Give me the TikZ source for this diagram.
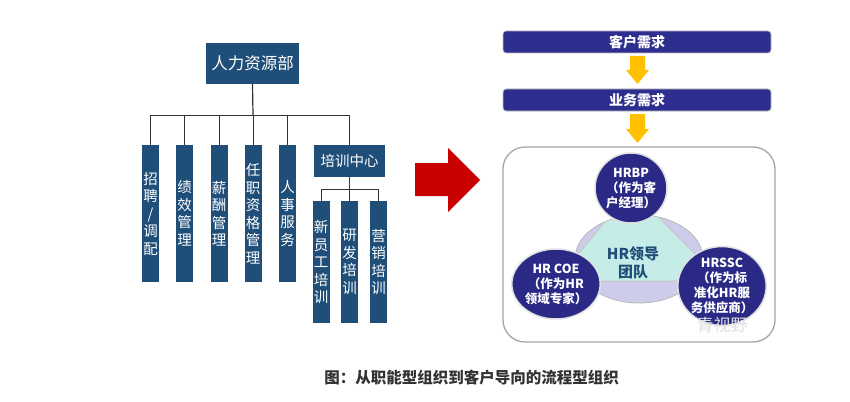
\documentclass[tikz,border=0pt]{standalone}
\usepackage{fontspec}
\setmainfont{Noto Sans CJK SC}
\definecolor{boxblue}{HTML}{1F4E79}
\definecolor{barblue}{HTML}{2E2E8E}
\definecolor{circblue}{HTML}{2A2A86}
\definecolor{lav}{HTML}{CDCDEB}
\definecolor{teal}{HTML}{C6ECE8}
\definecolor{arrowred}{HTML}{C80000}
\definecolor{gold}{HTML}{FFC000}
\definecolor{captxt}{HTML}{333333}
\tikzset{
  orgbox/.style={fill=boxblue, text=white, inner sep=0pt, align=center},
  vbox/.style={orgbox, minimum width=17pt, font=\fontsize{14.5}{17.5}\selectfont},
  tree/.style={draw=black!80, line width=0.8pt},
  bar/.style={fill=barblue, draw=gray!50, line width=0.8pt, rounded corners=3pt, text=white,
              minimum width=268pt, minimum height=22pt, inner sep=0pt, font=\bfseries\fontsize{14}{16}\selectfont},
  circ/.style={ellipse, fill=circblue, draw=gray!25, line width=1.5pt, text=white, inner sep=0pt,
               align=center, font=\bfseries\fontsize{12.5}{15}\selectfont},
}
\usetikzlibrary{shapes.geometric}
\begin{document}
\begin{tikzpicture}[x=1pt,y=-1pt]
\useasboundingbox (0,0) rectangle (850,401);
\fill[white] (0,0) rectangle (850,401);

% ---------- left org chart ----------
\node[orgbox, minimum width=93pt, minimum height=41pt, font=\fontsize{16.5}{18}\selectfont] (hr) at (252.5,63.5) {人力资源部};
\coordinate (bus) at (253,115);
\node[vbox, minimum height=137pt] (c1) at (150.5,213.5) {招\\聘\\/\\调\\配};
\node[vbox, minimum height=137pt] (c2) at (184.5,213.5) {绩\\效\\管\\理};
\node[vbox, minimum height=137pt] (c3) at (219,213.5) {薪\\酬\\管\\理};
\node[vbox, minimum height=137pt] (c4) at (253,213.5) {任\\职\\资\\格\\管\\理};
\node[vbox, minimum height=137pt] (c5) at (287.5,213.5) {人\\事\\服\\务};
\node[orgbox, minimum width=71pt, minimum height=32pt, font=\fontsize{14.5}{16}\selectfont] (c6) at (349.5,161) {培训中心};
\coordinate (bus2) at (349.5,189);
\node[vbox, minimum height=122pt] (s1) at (321,262) {新\\员\\工\\培\\训};
\node[vbox, minimum height=122pt] (s2) at (349.5,262) {研\\发\\培\\训};
\node[vbox, minimum height=122pt] (s3) at (378.5,262) {营\\销\\培\\训};

\draw[tree, line width=1.2pt] (hr.south) -- (bus);
\draw[tree] (c1.north |- bus) -- (c6.north |- bus);
\foreach \c in {c1,c2,c3,c4,c5,c6} \draw[tree] (\c.north) -- (\c.north |- bus);
\draw[tree] (c6.south) -- (bus2);
\draw[tree] (s1.north |- bus2) -- (s3.north |- bus2);
\foreach \c in {s1,s2,s3} \draw[tree] (\c.north) -- (\c.north |- bus2);

% ---------- red arrow ----------
\fill[arrowred] (415,163) -- (448,163) -- (448,148) -- (480,180) -- (448,212) -- (448,196) -- (415,196) -- cycle;

% ---------- right side ----------
\node[bar] (need1) at (637,42) {客户需求};
\node[bar] (need2) at (637,100) {业务需求};
\fill[gold] (630,56) -- (645,56) -- (645,70) -- (649,70) -- (637.5,84) -- (626,70) -- (630,70) -- cycle;
\fill[gold] (630,114) -- (645,114) -- (645,129) -- (649,129) -- (637.5,143) -- (626,129) -- (630,129) -- cycle;

\draw[gray!70, line width=1.3pt, fill=white, rounded corners=22pt] (503,147) rectangle (775,342);

\node[ellipse, fill=lav, draw=gray!55, line width=0.8pt, minimum width=128pt, minimum height=88pt, inner sep=0pt] (team) at (639,259) {};
\begin{scope}
  \clip (639,259) ellipse [x radius=63.5pt, y radius=43.5pt];
  \fill[teal] (631,190) -- (556,281) -- (722,281) -- cycle;
  \draw[gray!45, line width=1pt] (631,190) -- (556,281) -- (722,281) -- cycle;
\end{scope}
\node[text=boxblue, align=center, font=\bfseries\fontsize{15}{18}\selectfont] (lead) at (633,263) {HR领导\\团队};

\node[circ, minimum width=72pt, minimum height=70pt] (bp) at (631,188) {HRBP\\（作为客\\户经理）};
\node[circ, minimum width=82pt, minimum height=70pt] (coe) at (556,284) {HR COE\\（作为HR\\领域专家）};
\node[circ, minimum width=82pt, minimum height=69pt] (ssc) at (722,286) {HRSSC\\（作为标\\准化HR服\\务供应商）};

\node[text=gray!25, font=\fontsize{17}{18}\selectfont] (wm) at (722,325) {青视野};

% ---------- caption ----------
\node[text=captxt, font=\bfseries\fontsize{15.5}{17}\selectfont] (cap) at (471.5,378) {图：从职能型组织到客户导向的流程型组织};
\end{tikzpicture}
\end{document}
